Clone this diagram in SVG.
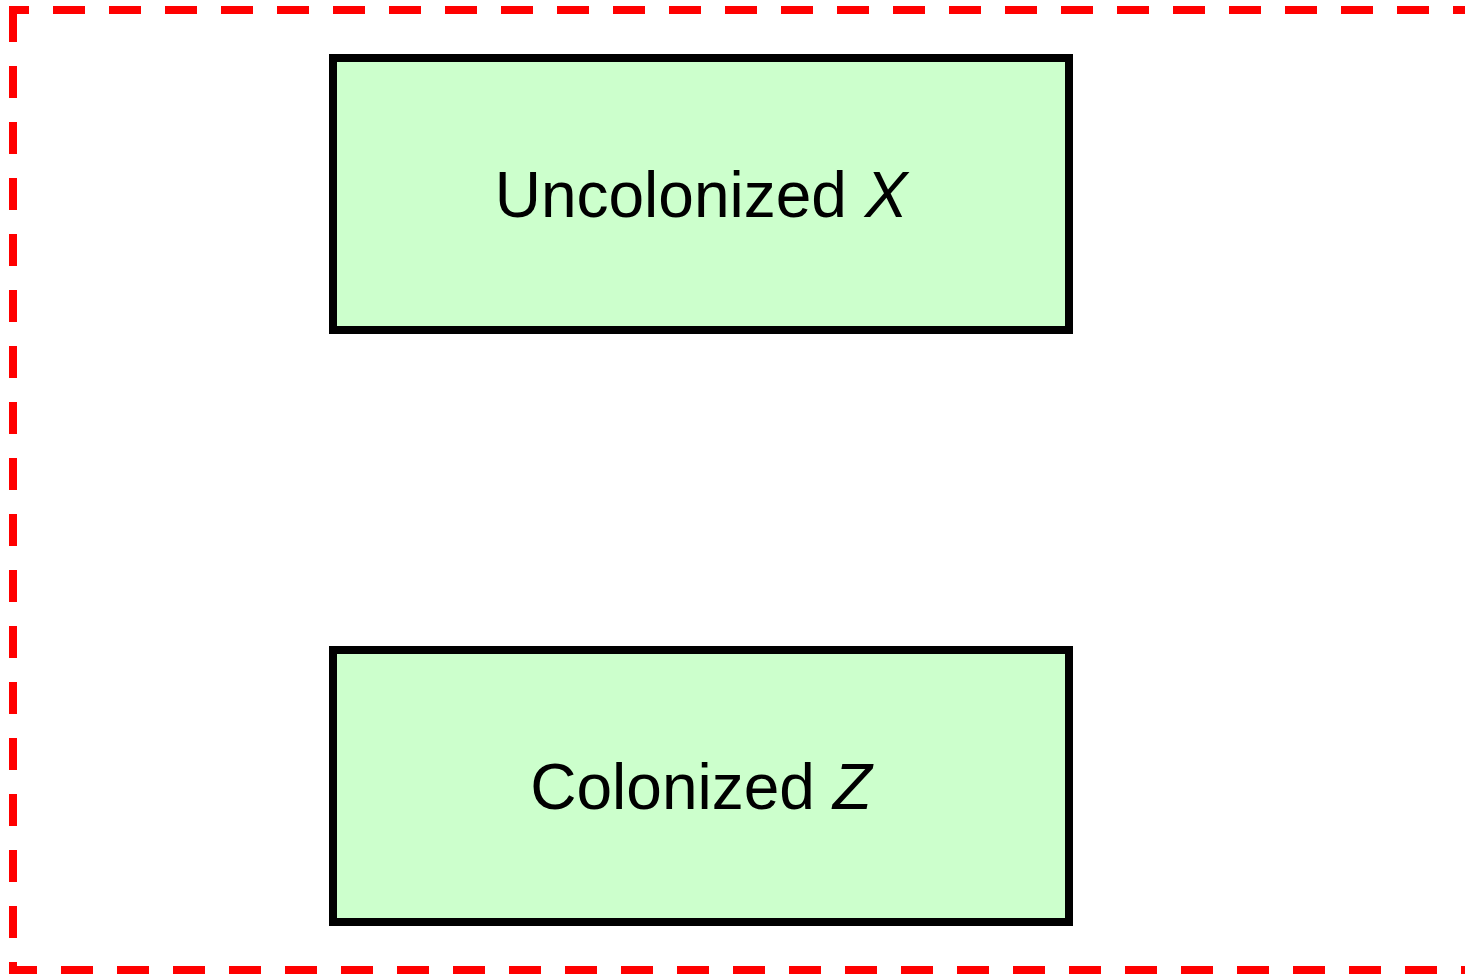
<svg xmlns="http://www.w3.org/2000/svg" width="1465" height="974" viewBox="0 0 1465 974">
<style>
.frame{fill:none;stroke:#ff0000;stroke-width:8;stroke-dasharray:32 24}
.box{fill:#ccffcc;stroke:#000000;stroke-width:8}
.lbl{font-family:"Liberation Sans",Arial,sans-serif;font-size:64px;fill:#000000;text-anchor:middle}
.it{font-style:italic}
</style>
<rect width="1465" height="974" fill="#ffffff"/>
<g id="frame">
<path class="frame" d="M13,10 L13,970 L1469,970 L1469,10 Z"/>
</g>
<g id="connectors"></g>
<g id="node-x">
<rect class="box" x="333" y="58" width="736" height="272"/>
<text class="lbl" x="701" y="217">Uncolonized <tspan class="it">X</tspan></text>
</g>
<g id="node-z">
<rect class="box" x="333" y="650" width="736" height="272"/>
<text class="lbl" x="701" y="809">Colonized <tspan class="it">Z</tspan></text>
</g>
</svg>
